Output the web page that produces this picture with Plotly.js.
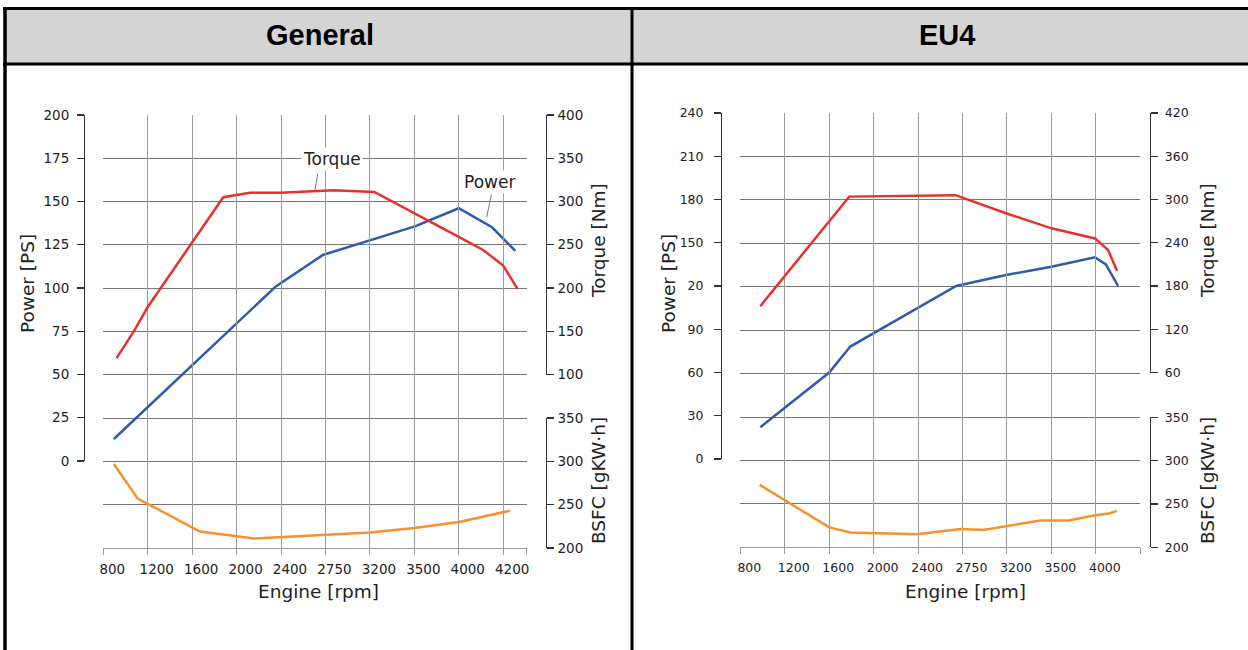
<!DOCTYPE html>
<html>
<head>
<meta charset="utf-8">
<script src="https://cdn.plot.ly/plotly-3.0.1.min.js"></script>
<style>
  html, body { margin: 0; padding: 0; background: #ffffff; }
  #chart { width: 1248px; height: 650px; }
</style>
</head>
<body>
<div id="chart"></div>
<script>
// ---------- data ----------
const panelTitles = ["General", "EU4"];
const rpmTicksGeneral = [800, 1200, 1600, 2000, 2400, 2750, 3200, 3500, 4000, 4200];
const rpmTicksEU4 = [800, 1200, 1600, 2000, 2400, 2750, 3200, 3500, 4000];

const powerTicksGeneral = [0, 25, 50, 75, 100, 125, 150, 175, 200];
const powerTickTextGeneral = ["0", "25", "50", "75", "100", "125", "150", "175", "200"];
const torqueTicksGeneral = [100, 150, 200, 250, 300, 350, 400];
const powerTicksEU4 = [0, 30, 60, 90, 120, 150, 180, 210, 240];
const powerTickTextEU4 = ["0", "30", "60", "90", "20", "150", "180", "210", "240"];
const torqueTicksEU4 = [60, 120, 180, 240, 300, 360, 420];
const bsfcTicks = [200, 250, 300, 350];

// General
const genTorqueRpm = [920, 1080, 1200, 1880, 2120, 2400, 2830, 3230, 4000, 4110, 4200, 4265];
const genTorque    = [119, 151, 178, 305, 310, 310, 313, 311, 259, 244, 226, 199];
const genPowerRpm  = [895, 1670, 2350, 2730, 3515, 4000, 4150, 4255];
const genPower     = [12.7, 59.4, 100.7, 119.1, 135.8, 146.1, 135.1, 121.4];
const genBsfcRpm   = [895, 1110, 1670, 2155, 3200, 3500, 4000, 4230];
const genBsfc      = [297, 257, 219, 211, 218, 223, 230, 243];

// EU4
const euTorqueRpm = [980, 1780, 2695, 3190, 3500, 3990, 4055, 4095];
const euTorque    = [152, 304, 306, 281, 260, 246, 230, 201];
const euPowerRpm  = [980, 1600, 1790, 2700, 3190, 3500, 3990, 4045, 4100];
const euPower     = [22, 60, 78, 120, 127.6, 133.4, 139.9, 135, 120];
const euBsfcRpm   = [975, 1600, 1790, 2390, 2735, 2960, 3425, 3695, 3995, 4060, 4095];
const euBsfc      = [272, 223, 217, 215, 221, 220, 231, 231, 237, 239, 242];

// ---------- helpers ----------
const W = 1248, H = 650;
const px = v => v / W;
const py = v => 1 - v / H;

// the rpm scale of the original is piecewise: tick labels are evenly spaced
function rpmPos(r, ticks) {
  for (let i = 0; i < ticks.length - 1; i++) {
    if (r <= ticks[i + 1]) return i + (r - ticks[i]) / (ticks[i + 1] - ticks[i]);
  }
  const last = ticks.length - 1;
  return last + (r - ticks[last]) / 200;
}
const mapRpm = (arr, ticks) => arr.map(r => rpmPos(r, ticks));

const RED = "#e8302c", BLUE = "#2c5caa", ORANGE = "#f5922e";
const tickFontL = { family: "DejaVu Sans", size: 13.5, color: "#222" };
const tickFontR = { family: "DejaVu Sans", size: 12.5, color: "#222" };
const titleFont = { family: "DejaVu Sans", size: 18.5, color: "#222" };

function line(x, y, xa, ya, color) {
  return { x: x, y: y, xaxis: xa, yaxis: ya, type: "scatter", mode: "lines",
           line: { color: color, width: 2.5 }, hoverinfo: "skip", showlegend: false };
}
// invisible trace so that the grid subplot exists
function gridHolder(xa, ya) {
  return { x: [0], y: [0], xaxis: xa, yaxis: ya, type: "scatter", mode: "markers",
           marker: { opacity: 0, size: 1 }, hoverinfo: "skip", showlegend: false };
}

const traces = [
  gridHolder("x", "y"),
  gridHolder("x2", "y5"),
  line(mapRpm(genTorqueRpm, rpmTicksGeneral), genTorque, "x", "y3", RED),
  line(mapRpm(genPowerRpm, rpmTicksGeneral), genPower, "x", "y2", BLUE),
  line(mapRpm(genBsfcRpm, rpmTicksGeneral), genBsfc, "x", "y4", ORANGE),
  line(mapRpm(euTorqueRpm, rpmTicksEU4), euTorque, "x2", "y7", RED),
  line(mapRpm(euPowerRpm, rpmTicksEU4), euPower, "x2", "y6", BLUE),
  line(mapRpm(euBsfcRpm, rpmTicksEU4), euBsfc, "x2", "y8", ORANGE)
];

// ---------- axes ----------
function xAxis(domain, ticks, rightEdge, anchor, font) {
  const vals = ticks.map((_, i) => i);
  const txt = ticks.map(String);
  vals.push(rightEdge); txt.push("");
  return {
    domain: domain, range: [0, rightEdge], anchor: anchor,
    tickmode: "array", tickvals: vals, ticktext: txt,
    showgrid: true, gridcolor: "#9c9c9c", gridwidth: 1,
    showline: true, linecolor: "#9c9c9c", linewidth: 1,
    ticks: "outside", ticklen: 6, tickcolor: "#9c9c9c",
    ticklabelshift: 9, ticklabelstandoff: 3,
    tickfont: font, zeroline: false, fixedrange: true
  };
}
function gridAxis(domain, anchor) {
  return {
    domain: domain, range: [0, 10], anchor: anchor,
    tickmode: "array", tickvals: [0,1,2,3,4,5,6,7,8,9,10],
    showticklabels: false, ticks: "", showgrid: true, gridcolor: "#777777", gridwidth: 1,
    showline: false, zeroline: false, fixedrange: true
  };
}
function valAxis(domain, range, vals, text, side, pos, standoff, font) {
  return {
    domain: domain, range: range, anchor: "free", position: pos, side: side,
    tickmode: "array", tickvals: vals, ticktext: text || vals.map(String),
    showgrid: false, zeroline: false, showline: true, linecolor: "#333", linewidth: 1.3,
    ticks: "outside", ticklen: 7, tickcolor: "#333", tickwidth: 1.3,
    ticklabelstandoff: standoff,
    tickfont: font, fixedrange: true
  };
}

function label(text, x, y, font, angle) {
  return { text: text, xref: "paper", yref: "paper", x: px(x), y: py(y),
           xanchor: "center", yanchor: "middle", textangle: angle || 0,
           showarrow: false, font: font };
}

const headFont = { family: "Liberation Sans", size: 29, color: "#000" };

const layout = {
  width: W, height: H,
  margin: { l: 0, r: 0, t: 0, b: 0 },
  paper_bgcolor: "#ffffff", plot_bgcolor: "rgba(0,0,0,0)",
  showlegend: false,
  // General panel
  xaxis: xAxis([px(103.3), px(526.7)], rpmTicksGeneral, 9.53, "y", tickFontL),
  yaxis: gridAxis([py(548), py(115)], "x"),
  yaxis2: valAxis([py(461), py(115)], [0, 200], powerTicksGeneral, powerTickTextGeneral, "left", px(84), 5, tickFontL),
  yaxis3: valAxis([py(374.5), py(115)], [100, 400], torqueTicksGeneral, null, "right", px(545.5), 1, tickFontL),
  yaxis4: valAxis([py(548), py(418)], [200, 350], bsfcTicks, null, "right", px(545.5), 1, tickFontL),
  // EU4 panel
  xaxis2: xAxis([px(740.3), px(1140.3)], rpmTicksEU4, 9, "y5", tickFontR),
  yaxis5: gridAxis([py(547.3), py(113)], "x2"),
  yaxis6: valAxis([py(459), py(113)], [0, 240], powerTicksEU4, powerTickTextEU4, "left", px(721), 8, tickFontR),
  yaxis7: valAxis([py(372.5), py(113)], [60, 420], torqueTicksEU4, null, "right", px(1150), 4, tickFontR),
  yaxis8: valAxis([py(547.3), py(417.3)], [200, 350], bsfcTicks, null, "right", px(1150), 4, tickFontR),
  shapes: [
    { type: "rect", xref: "paper", yref: "paper", x0: px(5), x1: 1, y0: py(64), y1: py(9),
      fillcolor: "#d4d4d4", line: { width: 0 }, layer: "below" },
    { type: "line", xref: "paper", yref: "paper", x0: px(3), x1: 1, y0: py(8.5), y1: py(8.5),
      line: { color: "#000", width: 3 } },
    { type: "line", xref: "paper", yref: "paper", x0: px(3), x1: 1, y0: py(64), y1: py(64),
      line: { color: "#000", width: 3 } },
    { type: "line", xref: "paper", yref: "paper", x0: px(5), x1: px(5), y0: py(7), y1: 0,
      line: { color: "#000", width: 3.5 } },
    { type: "line", xref: "paper", yref: "paper", x0: px(632), x1: px(632), y0: py(7), y1: 0,
      line: { color: "#000", width: 3 } }
  ],
  annotations: [
    label("<b>" + panelTitles[0] + "</b>", 320, 35, headFont),
    label("<b>" + panelTitles[1] + "</b>", 947, 35, headFont),
    // axis titles General
    label("Power [PS]", 27, 284, titleFont, -90),
    label("Torque [Nm]", 599, 241, titleFont, -90),
    label("BSFC [gKW·h]", 598, 481, titleFont, -90),
    label("Engine [rpm]", 318, 591, titleFont),
    // axis titles EU4
    label("Power [PS]", 668, 284, titleFont, -90),
    label("Torque [Nm]", 1208, 241, titleFont, -90),
    label("BSFC [gKW·h]", 1207, 481, titleFont, -90),
    label("Engine [rpm]", 965, 591, titleFont),
    // curve labels (General)
    { text: "", xref: "x", yref: "y3", x: rpmPos(2667, rpmTicksGeneral), y: 313,
      showarrow: true, arrowhead: 0, arrowwidth: 0.8, arrowcolor: "#555", ax: 3, ay: -18,
      standoff: 0, startstandoff: 0 },
    { text: "Torque", xref: "x", yref: "y3", x: rpmPos(2818, rpmTicksGeneral), y: 349,
      xanchor: "center", yanchor: "middle",
      showarrow: false, bgcolor: "#ffffff", borderpad: 1,
      font: { family: "DejaVu Sans", size: 17, color: "#222" } },
    { text: "", xref: "x", yref: "y2", x: rpmPos(4126, rpmTicksGeneral), y: 141,
      showarrow: true, arrowhead: 0, arrowwidth: 0.8, arrowcolor: "#555", ax: 5, ay: -24,
      standoff: 0, startstandoff: 0 },
    { text: "Power", xref: "x", yref: "y2", x: rpmPos(4140, rpmTicksGeneral), y: 161.4,
      xanchor: "center", yanchor: "middle",
      showarrow: false, bgcolor: "#ffffff", borderpad: 1,
      font: { family: "DejaVu Sans", size: 17, color: "#222" } }
  ]
};

Plotly.newPlot("chart", traces, layout, { staticPlot: true, displayModeBar: false });
</script>
</body>
</html>
